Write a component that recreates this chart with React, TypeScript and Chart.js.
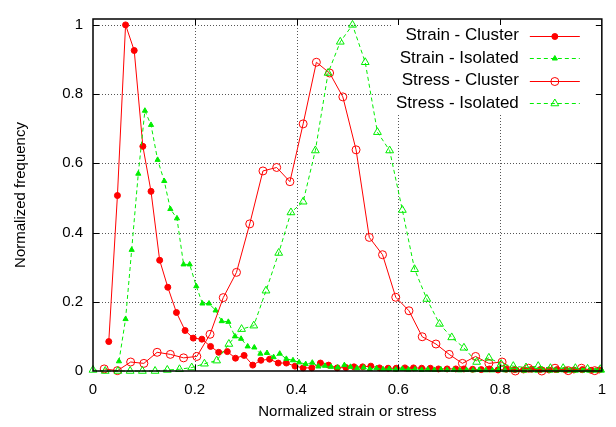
import React, { useEffect, useRef } from 'react';
import { Chart, registerables } from 'chart.js';

Chart.register(...registerables);

// ---- data ----
const strainClusterX = [0.031, 0.048, 0.064, 0.081, 0.098, 0.114, 0.131, 0.147, 0.164, 0.181, 0.197, 0.214, 0.231, 0.247, 0.264, 0.280, 0.297, 0.314, 0.330, 0.347, 0.364, 0.380, 0.397, 0.413, 0.430, 0.447, 0.463, 0.480, 0.497, 0.513, 0.530, 0.546, 0.563, 0.580, 0.596, 0.613, 0.630, 0.646, 0.663, 0.679, 0.696, 0.713, 0.729, 0.746, 0.763, 0.779, 0.796, 0.812, 0.829, 0.846, 0.862, 0.879, 0.896, 0.912, 0.929, 0.945, 0.962, 0.979, 0.995];
const strainClusterY = [0.085, 0.507, 1.0, 0.926, 0.649, 0.519, 0.320, 0.242, 0.169, 0.117, 0.095, 0.092, 0.071, 0.054, 0.056, 0.037, 0.045, 0.017, 0.031, 0.034, 0.023, 0.023, 0.014, 0.009, 0.009, 0.023, 0.017, 0.009, 0.010, 0.012, 0.012, 0.014, 0.009, 0.008, 0.008, 0.009, 0.009, 0.008, 0.008, 0.006, 0.006, 0.006, 0.006, 0.005, 0.004, 0.006, 0.003, 0.005, 0.004, 0.003, 0.005, 0.004, 0.003, 0.004, 0.003, 0.003, 0.004, 0.002, 0.003];

const strainIsolatedX = [0.051, 0.064, 0.076, 0.089, 0.102, 0.114, 0.127, 0.140, 0.152, 0.165, 0.178, 0.190, 0.203, 0.215, 0.228, 0.241, 0.253, 0.266, 0.279, 0.291, 0.304, 0.317, 0.329, 0.342, 0.355, 0.367, 0.380, 0.393, 0.405, 0.418, 0.431, 0.443, 0.456, 0.468, 0.481, 0.494, 0.506, 0.519, 0.532, 0.544, 0.557, 0.570, 0.582, 0.595, 0.608, 0.620, 0.633, 0.646, 0.658, 0.671, 0.684, 0.696, 0.709, 0.721, 0.734, 0.747, 0.759, 0.772, 0.785, 0.797, 0.810, 0.823, 0.835, 0.848, 0.861, 0.873, 0.886, 0.899, 0.911, 0.924, 0.937, 0.949, 0.962, 0.975, 0.987, 1.000];
const strainIsolatedY = [0.028, 0.150, 0.350, 0.570, 0.752, 0.711, 0.610, 0.549, 0.468, 0.441, 0.308, 0.308, 0.245, 0.195, 0.195, 0.175, 0.144, 0.142, 0.100, 0.093, 0.071, 0.068, 0.050, 0.052, 0.040, 0.050, 0.035, 0.031, 0.025, 0.020, 0.024, 0.013, 0.015, 0.012, 0.010, 0.017, 0.012, 0.008, 0.010, 0.006, 0.008, 0.005, 0.006, 0.004, 0.006, 0.004, 0.005, 0.003, 0.004, 0.003, 0.004, 0.003, 0.003, 0.002, 0.003, 0.002, 0.003, 0.002, 0.002, 0.003, 0.002, 0.002, 0.002, 0.001, 0.002, 0.001, 0.002, 0.001, 0.001, 0.002, 0.001, 0.001, 0.001, 0.001, 0.001, 0.001];

const stressClusterX = [0.022, 0.048, 0.074, 0.100, 0.126, 0.152, 0.178, 0.204, 0.230, 0.256, 0.282, 0.308, 0.334, 0.361, 0.387, 0.413, 0.439, 0.465, 0.491, 0.517, 0.543, 0.569, 0.595, 0.621, 0.647, 0.674, 0.700, 0.726, 0.752, 0.778, 0.804, 0.830, 0.856, 0.882, 0.908, 0.934, 0.960, 0.986];
const stressClusterY = [0.006, 0.001, 0.026, 0.022, 0.054, 0.048, 0.038, 0.042, 0.106, 0.212, 0.285, 0.425, 0.578, 0.588, 0.547, 0.714, 0.892, 0.861, 0.792, 0.639, 0.386, 0.336, 0.213, 0.174, 0.099, 0.078, 0.048, 0.022, 0.042, 0.022, 0.026, 0.000, 0.008, 0.000, 0.008, 0.001, 0.008, 0.001];

const stressIsolatedX = [0.000, 0.024, 0.049, 0.073, 0.097, 0.122, 0.146, 0.170, 0.194, 0.219, 0.243, 0.267, 0.292, 0.316, 0.340, 0.365, 0.389, 0.413, 0.437, 0.462, 0.486, 0.510, 0.535, 0.559, 0.583, 0.608, 0.632, 0.656, 0.681, 0.705, 0.729, 0.754, 0.778, 0.802, 0.826, 0.851, 0.875, 0.899, 0.924, 0.948, 0.972, 0.997];
const stressIsolatedY = [0.003, 0.000, 0.000, 0.000, 0.000, 0.000, 0.003, 0.005, 0.010, 0.021, 0.030, 0.078, 0.121, 0.131, 0.232, 0.341, 0.458, 0.489, 0.637, 0.861, 0.951, 1.000, 0.892, 0.690, 0.637, 0.465, 0.294, 0.208, 0.136, 0.097, 0.067, 0.026, 0.038, 0.020, 0.014, 0.010, 0.014, 0.008, 0.008, 0.008, 0.006, 0.005];

const seriesLabels = ['Strain - Cluster', 'Strain - Isolated', 'Stress - Cluster', 'Stress - Isolated'];
const xTicks = [0, 0.2, 0.4, 0.6, 0.8, 1];
const yTicks = [0, 0.2, 0.4, 0.6, 0.8, 1];
const xTitle = 'Normalized strain or stress';
const yTitle = 'Normalized frequency';

// ---- styles ----
const RED = '#ff0000';
const GREEN = '#00ee00';
const FONT = '"Liberation Sans", Arial, Helvetica, sans-serif';
const AXIS_FONT = 15;
const KEY_FONT = 17;

type Style = { color: string; dash: number[]; shape: 'circle' | 'triangle'; filled: boolean; r: number };
const styles: Style[] = [
  { color: RED, dash: [], shape: 'circle', filled: true, r: 3 },
  { color: GREEN, dash: [4, 3], shape: 'triangle', filled: true, r: 3 },
  { color: RED, dash: [], shape: 'circle', filled: false, r: 4 },
  { color: GREEN, dash: [4, 3], shape: 'triangle', filled: false, r: 4.5 },
];

const fmt = (v: number) => String(Math.round(v * 10) / 10);

function drawMarker(ctx: CanvasRenderingContext2D, s: Style, x: number, y: number) {
  ctx.save();
  ctx.setLineDash([]);
  ctx.lineWidth = 1;
  ctx.strokeStyle = s.color;
  ctx.fillStyle = s.color;
  ctx.beginPath();
  if (s.shape === 'circle') {
    ctx.arc(x, y, s.r, 0, Math.PI * 2);
  } else {
    const r = s.r;
    ctx.moveTo(x, y - r);
    ctx.lineTo(x + 0.866 * r, y + 0.5 * r);
    ctx.lineTo(x - 0.866 * r, y + 0.5 * r);
    ctx.closePath();
  }
  if (s.filled) ctx.fill();
  ctx.stroke();
  ctx.restore();
}

const framePlugin = {
  id: 'gnuFrame',
  beforeDatasetsDraw(chart: any) {
    const { ctx, chartArea: a, scales } = chart;
    const xs = scales.x;
    const ys = scales.y;
    ctx.save();
    ctx.strokeStyle = '#555';
    ctx.lineWidth = 1;
    ctx.setLineDash([1, 2]);
    xTicks.forEach((v) => {
      if (v <= 0 || v >= 1) return;
      const px = Math.round(xs.getPixelForValue(v)) + 0.5;
      ctx.beginPath();
      ctx.moveTo(px, a.top);
      ctx.lineTo(px, a.bottom);
      ctx.stroke();
    });
    yTicks.forEach((v) => {
      if (v <= 0) return;
      const py = Math.round(ys.getPixelForValue(v)) + 0.5;
      ctx.beginPath();
      ctx.moveTo(a.left, py);
      ctx.lineTo(a.right, py);
      ctx.stroke();
    });
    ctx.setLineDash([]);
    // opaque key area
    ctx.fillStyle = '#ffffff';
    ctx.fillRect(a.right - 210, a.top + 1, 209, 95);
    ctx.restore();
  },
  afterDatasetsDraw(chart: any) {
    const { ctx, chartArea: a, scales } = chart;
    const xs = scales.x;
    const ys = scales.y;
    ctx.save();
    ctx.setLineDash([]);
    ctx.strokeStyle = '#000';
    ctx.lineWidth = 1.5;
    ctx.strokeRect(a.left, a.top, a.right - a.left, a.bottom - a.top);
    ctx.lineWidth = 1;
    const tl = 6;
    xTicks.forEach((v) => {
      if (v <= 0 || v >= 1) return;
      const px = Math.round(xs.getPixelForValue(v)) + 0.5;
      ctx.beginPath();
      ctx.moveTo(px, a.bottom);
      ctx.lineTo(px, a.bottom - tl);
      ctx.moveTo(px, a.top);
      ctx.lineTo(px, a.top + tl);
      ctx.stroke();
    });
    yTicks.forEach((v) => {
      if (v <= 0) return;
      const py = Math.round(ys.getPixelForValue(v)) + 0.5;
      ctx.beginPath();
      ctx.moveTo(a.left, py);
      ctx.lineTo(a.left + tl, py);
      ctx.moveTo(a.right, py);
      ctx.lineTo(a.right - tl, py);
      ctx.stroke();
    });
    // key
    ctx.font = `${KEY_FONT}px ${FONT}`;
    ctx.textAlign = 'right';
    ctx.textBaseline = 'middle';
    seriesLabels.forEach((label, i) => {
      const s = styles[i];
      const ry = a.top + 16.5 + i * 22.5;
      ctx.fillStyle = '#000';
      ctx.fillText(label, a.right - 83, ry);
      ctx.strokeStyle = s.color;
      ctx.lineWidth = 1;
      ctx.setLineDash(s.dash);
      ctx.beginPath();
      ctx.moveTo(a.right - 72, Math.round(ry) + 0.5);
      ctx.lineTo(a.right - 22, Math.round(ry) + 0.5);
      ctx.stroke();
      ctx.setLineDash([]);
      drawMarker(ctx, s, a.right - 47, Math.round(ry) + 0.5);
    });
    ctx.restore();
  },
};

const seriesX = [strainClusterX, strainIsolatedX, stressClusterX, stressIsolatedX];
const seriesY = [strainClusterY, strainIsolatedY, stressClusterY, stressIsolatedY];

export default function App() {
  const canvasRef = useRef<HTMLCanvasElement | null>(null);

  useEffect(() => {
    const canvas = canvasRef.current;
    if (!canvas) return;
    Chart.defaults.font.family = FONT;
    Chart.defaults.font.size = AXIS_FONT;
    Chart.defaults.color = '#000';

    const datasets = seriesLabels.map((label, i) => {
      const s = styles[i];
      return {
        label,
        data: seriesX[i].map((x, j) => ({ x, y: seriesY[i][j] })),
        borderColor: s.color,
        backgroundColor: s.filled ? s.color : 'rgba(0,0,0,0)',
        borderWidth: 1,
        borderDash: s.dash,
        pointStyle: s.shape,
        pointRadius: s.r,
        pointBorderWidth: 1,
        pointBackgroundColor: s.filled ? s.color : 'rgba(0,0,0,0)',
        pointBorderColor: s.color,
        tension: 0,
        fill: false,
        clip: false as any,
        order: 4 - i,
      };
    });

    const chart = new Chart(canvas, {
      type: 'line',
      data: { datasets },
      plugins: [framePlugin],
      options: {
        responsive: false,
        maintainAspectRatio: false,
        devicePixelRatio: 1,
        animation: false,
        events: [],
        layout: { padding: { top: 10, right: 13, left: 0, bottom: 0 } },
        plugins: {
          legend: { display: false },
          tooltip: { enabled: false },
        },
        scales: {
          x: {
            type: 'linear',
            min: 0,
            max: 1,
            grid: { display: false, drawTicks: false },
            border: { display: false },
            afterBuildTicks: (axis: any) => {
              axis.ticks = xTicks.map((v) => ({ value: v }));
            },
            afterFit: (scale: any) => {
              scale.height = 56;
            },
            ticks: {
              padding: 10,
              maxRotation: 0,
              autoSkip: false,
              color: '#000',
              font: { size: AXIS_FONT, family: FONT },
              callback: (v: any) => fmt(Number(v)),
            },
            title: {
              display: true,
              text: xTitle,
              color: '#000',
              font: { size: AXIS_FONT, family: FONT },
              padding: { top: 0, bottom: 6 },
            },
          },
          y: {
            type: 'linear',
            min: 0,
            max: 1.017,
            grid: { display: false, drawTicks: false },
            border: { display: false },
            afterBuildTicks: (axis: any) => {
              axis.ticks = yTicks.map((v) => ({ value: v }));
            },
            afterFit: (scale: any) => {
              scale.width = 93;
            },
            ticks: {
              padding: 10,
              autoSkip: false,
              color: '#000',
              font: { size: AXIS_FONT, family: FONT },
              callback: (v: any) => fmt(Number(v)),
            },
            title: {
              display: true,
              text: yTitle,
              color: '#000',
              font: { size: AXIS_FONT, family: FONT },
              padding: { top: 12, bottom: 0 },
            },
          },
        },
      },
    });

    return () => {
      chart.destroy();
    };
  }, []);

  return (
    <div style={{ position: 'fixed', left: 0, top: 0, width: 616, height: 427, background: '#fff' }}>
      <canvas ref={canvasRef} width={616} height={427} style={{ width: 616, height: 427, display: 'block' }} />
    </div>
  );
}
